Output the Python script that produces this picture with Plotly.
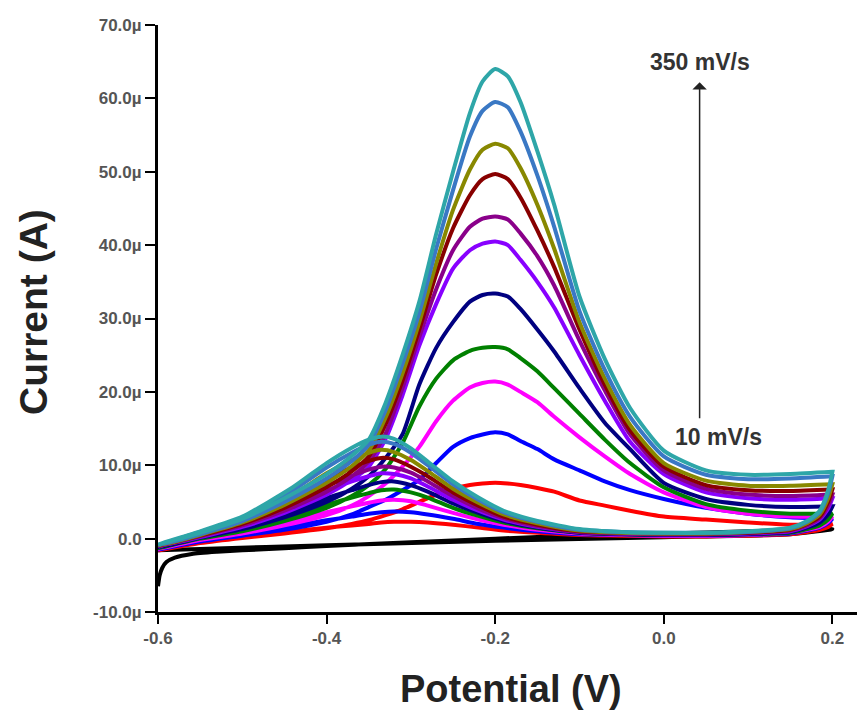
import plotly.graph_objects as go

# Potential grids (V)
fwd_potential = [-0.60, -0.55, -0.50, -0.45, -0.40, -0.37, -0.35, -0.33, -0.31, -0.29, -0.27, -0.25,
                 -0.23, -0.215, -0.20, -0.185, -0.17, -0.15, -0.13, -0.10, -0.07, -0.04, 0.00,
                 0.05, 0.10, 0.15, 0.20]
rev_potential = [0.20, 0.195, 0.185, 0.17, 0.15, 0.10, 0.05, 0.00, -0.05, -0.10, -0.15, -0.19,
                 -0.22, -0.25, -0.28, -0.30, -0.32, -0.335, -0.35, -0.37, -0.40, -0.44, -0.50,
                 -0.55, -0.60]

# Current values in microamps (forward and reverse sweeps)
red_fwd = [-1.6, -0.6, 0.1, 0.7, 1.4, 2.0, 2.5, 3.2, 4.0, 5.0, 6.0, 6.8, 7.3, 7.5, 7.6, 7.5, 7.3, 6.9, 6.4, 5.2, 4.5, 3.8, 3.0, 2.6, 2.2, 1.9, 2.0]
red_rev = [2.0, 1.6, 1.2, 0.9, 0.6, 0.4, 0.3, 0.3, 0.4, 0.5, 0.8, 1.1, 1.5, 1.9, 2.2, 2.3, 2.3, 2.2, 2.0, 1.8, 1.5, 1.0, 0.3, -0.5, -1.6]
blue_fwd = [-1.5, -0.4, 0.4, 1.2, 2.3, 3.3, 4.3, 5.3, 6.6, 8.0, 10.3, 12.5, 13.7, 14.2, 14.5, 14.2, 13.3, 12.2, 10.8, 9.3, 7.8, 6.6, 5.4, 4.2, 3.4, 2.9, 2.7]
blue_rev = [2.7, 2.1, 1.5, 1.1, 0.7, 0.5, 0.4, 0.4, 0.5, 0.6, 1.0, 1.5, 2.0, 2.7, 3.3, 3.6, 3.7, 3.6, 3.4, 3.0, 2.5, 1.7, 0.6, -0.3, -1.5]
magenta_fwd = [-1.4, -0.2, 0.7, 1.8, 3.2, 4.5, 5.8, 7.5, 9.8, 12.5, 16.0, 18.8, 20.6, 21.2, 21.4, 21.0, 20.0, 18.6, 16.6, 13.8, 11.2, 8.8, 6.3, 4.3, 3.4, 3.0, 3.0]
magenta_rev = [3.0, 2.3, 1.6, 1.2, 0.8, 0.5, 0.4, 0.4, 0.5, 0.7, 1.2, 1.9, 2.6, 3.5, 4.5, 5.1, 5.3, 5.2, 4.9, 4.4, 3.6, 2.5, 1.0, 0.0, -1.4]
green_fwd = [-1.3, 0.0, 1.0, 2.4, 4.2, 5.8, 7.3, 9.5, 13.0, 18.0, 21.8, 24.3, 25.6, 26.0, 26.1, 25.8, 24.6, 22.8, 20.5, 17.0, 13.5, 10.3, 7.0, 4.7, 3.8, 3.4, 3.4]
green_rev = [3.4, 2.6, 1.8, 1.3, 0.8, 0.6, 0.5, 0.5, 0.6, 0.8, 1.4, 2.2, 3.1, 4.2, 5.6, 6.3, 6.7, 6.6, 6.2, 5.6, 4.6, 3.2, 1.3, 0.2, -1.3]
navy_fwd = [-1.2, 0.1, 1.3, 2.9, 5.0, 6.8, 8.5, 11.0, 14.2, 21.0, 26.0, 29.5, 32.3, 33.2, 33.4, 33.0, 31.3, 28.5, 25.5, 20.5, 15.8, 12.2, 7.6, 5.4, 4.6, 4.3, 4.4]
navy_rev = [4.4, 3.3, 2.2, 1.5, 0.9, 0.6, 0.5, 0.5, 0.6, 0.8, 1.5, 2.4, 3.5, 4.8, 6.4, 7.3, 7.8, 7.7, 7.3, 6.6, 5.5, 3.8, 1.6, 0.4, -1.2]
violet_fwd = [-1.1, 0.2, 1.6, 3.5, 6.0, 8.0, 9.8, 13.6, 19.5, 26.3, 32.0, 36.8, 39.3, 40.2, 40.5, 40.0, 38.0, 35.0, 31.5, 25.0, 18.8, 13.2, 8.8, 6.3, 5.5, 5.3, 5.5]
violet_rev = [5.5, 4.1, 2.6, 1.7, 1.0, 0.7, 0.6, 0.6, 0.7, 0.9, 1.6, 2.6, 3.8, 5.3, 7.1, 8.2, 8.8, 8.9, 8.5, 7.8, 6.5, 4.4, 1.9, 0.5, -1.1]
purple_fwd = [-1.1, 0.3, 1.8, 3.8, 6.4, 8.5, 10.5, 14.3, 20.5, 27.5, 34.0, 39.3, 42.5, 43.6, 43.9, 43.5, 41.6, 38.5, 34.5, 27.0, 20.2, 14.2, 9.3, 6.8, 6.0, 5.8, 6.0]
purple_rev = [6.0, 4.5, 2.8, 1.8, 1.1, 0.8, 0.6, 0.6, 0.7, 0.9, 1.7, 2.8, 4.1, 5.8, 7.8, 9.0, 9.7, 9.8, 9.4, 8.6, 7.2, 4.9, 2.1, 0.6, -1.1]
maroon_fwd = [-1.0, 0.4, 2.0, 4.2, 7.0, 9.2, 11.2, 15.6, 21.5, 28.5, 36.0, 42.3, 46.8, 49.0, 49.7, 49.0, 46.5, 42.0, 37.0, 28.5, 21.0, 14.8, 9.8, 7.3, 6.6, 6.5, 6.7]
maroon_rev = [6.7, 5.0, 3.0, 2.0, 1.2, 0.8, 0.7, 0.7, 0.8, 1.0, 1.9, 3.0, 4.5, 6.3, 8.5, 9.8, 10.8, 11.0, 10.6, 9.7, 8.1, 5.5, 2.4, 0.7, -1.0]
olive_fwd = [-1.0, 0.5, 2.2, 4.6, 7.6, 9.9, 12.0, 16.5, 22.5, 29.5, 37.5, 44.8, 50.3, 53.0, 53.8, 53.2, 50.5, 45.5, 39.5, 29.5, 21.8, 15.5, 10.3, 7.9, 7.2, 7.2, 7.4]
olive_rev = [7.4, 5.5, 3.3, 2.1, 1.3, 0.9, 0.7, 0.7, 0.8, 1.1, 2.1, 3.3, 4.9, 6.8, 9.2, 10.7, 11.8, 12.1, 11.7, 10.7, 8.9, 6.0, 2.6, 0.8, -1.0]
steel_fwd = [-0.9, 0.6, 2.4, 5.0, 8.2, 10.6, 12.8, 17.5, 23.8, 30.8, 39.5, 47.5, 54.8, 58.3, 59.5, 58.8, 55.5, 49.5, 42.5, 31.0, 23.0, 16.6, 11.2, 8.7, 8.1, 8.2, 8.5]
steel_rev = [8.5, 6.2, 3.6, 2.3, 1.4, 0.9, 0.8, 0.8, 0.9, 1.2, 2.3, 3.6, 5.3, 7.4, 10.0, 11.7, 12.9, 13.2, 12.8, 11.7, 9.7, 6.6, 2.8, 0.9, -0.9]
teal_fwd = [-0.8, 0.8, 2.7, 5.5, 8.8, 11.3, 13.5, 18.5, 25.0, 32.3, 41.5, 50.0, 58.0, 62.3, 64.0, 63.0, 59.5, 52.8, 45.5, 33.0, 24.5, 17.8, 12.0, 9.3, 8.7, 8.8, 9.1]
teal_rev = [9.1, 6.6, 3.8, 2.4, 1.5, 1.0, 0.8, 0.8, 0.9, 1.3, 2.4, 3.8, 5.6, 7.8, 10.5, 12.3, 13.6, 13.9, 13.5, 12.4, 10.3, 7.0, 3.0, 1.0, -0.8]

# Blank electrode (black)
blank_potential = [-0.600, -0.598, -0.595, -0.590, -0.580, -0.560, -0.530, -0.500, -0.450, -0.400, -0.300,
                   -0.200, -0.100, 0.000, 0.100, 0.200, 0.150, 0.000, -0.200, -0.400, -0.550, -0.600]
blank_current = [-6.5, -5.0, -4.0, -3.2, -2.6, -2.1, -1.8, -1.6, -1.3, -1.0, -0.5,
                 0.0, 0.4, 0.7, 1.0, 1.3, 0.6, 0.2, -0.3, -0.9, -1.4, -1.6]

series = [
    ("10 mV/s", "#ff0000", red_fwd, red_rev),
    ("blue", "#0000ff", blue_fwd, blue_rev),
    ("magenta", "#ff00ff", magenta_fwd, magenta_rev),
    ("green", "#008000", green_fwd, green_rev),
    ("navy", "#000080", navy_fwd, navy_rev),
    ("violet", "#8800ff", violet_fwd, violet_rev),
    ("purple", "#8a008a", purple_fwd, purple_rev),
    ("wine", "#880000", maroon_fwd, maroon_rev),
    ("olive", "#888800", olive_fwd, olive_rev),
    ("royal", "#3a78c4", steel_fwd, steel_rev),
    ("350 mV/s", "#2ea6a8", teal_fwd, teal_rev),
]

y_ticks = [-10, 0, 10, 20, 30, 40, 50, 60, 70]
y_ticktext = ["-10.0\u00b5", "0.0", "10.0\u00b5", "20.0\u00b5", "30.0\u00b5", "40.0\u00b5",
              "50.0\u00b5", "60.0\u00b5", "70.0\u00b5"]
x_ticks = [-0.6, -0.4, -0.2, 0.0, 0.2]
x_ticktext = ["-0.6", "-0.4", "-0.2", "0.0", "0.2"]

fig = go.Figure()
fig.add_trace(go.Scatter(x=blank_potential, y=blank_current, mode="lines",
                         line=dict(color="#000000", width=4, shape="spline", smoothing=0.6)))
for name, color, fwd, rev in series:
    fig.add_trace(go.Scatter(x=fwd_potential + rev_potential, y=fwd + rev, mode="lines", name=name,
                             line=dict(color=color, width=4, shape="spline", smoothing=0.6)))

tickfont = dict(family="Liberation Sans", size=17, color="#555555", weight="bold")
fig.update_layout(
    width=865, height=713,
    margin=dict(l=150, r=8, t=17, b=109),
    plot_bgcolor="white", paper_bgcolor="white",
    showlegend=False,
    xaxis=dict(range=[-0.6, 0.2387], showline=True, linecolor="black", linewidth=3,
               ticks="outside", ticklen=9, tickwidth=2, tickcolor="black",
               showgrid=False, zeroline=False, tickvals=x_ticks, ticktext=x_ticktext,
               tickfont=tickfont),
    yaxis=dict(range=[-10, 70], showline=True, linecolor="black", linewidth=3,
               ticks="outside", ticklen=10, tickwidth=2, tickcolor="black",
               showgrid=False, zeroline=False, tickvals=y_ticks, ticktext=y_ticktext,
               tickfont=tickfont),
)

fig.add_annotation(x=0.0425, y=62.2, ax=0.0425, ay=16.2, axref="x", ayref="y", xref="x", yref="y",
                   text="", showarrow=True, arrowhead=1, arrowsize=1.6, arrowwidth=1.5,
                   arrowcolor="#222222")
fig.add_annotation(x=0.0425, y=65.0, text="<b>350 mV/s</b>", showarrow=False,
                   font=dict(family="Liberation Sans", size=23, color="#333333"))
fig.add_annotation(x=0.065, y=13.9, text="<b>10 mV/s</b>", showarrow=False,
                   font=dict(family="Liberation Sans", size=23, color="#333333"))
fig.add_annotation(x=(511 - 158) / 707, y=(612 - 689) / 587, xref="paper", yref="paper",
                   xanchor="center", yanchor="middle",
                   text="<b>Potential (V)</b>", showarrow=False,
                   font=dict(family="Liberation Sans", size=38, color="#222222"))
fig.add_annotation(x=(33 - 158) / 707, y=(612 - 312) / 587, xref="paper", yref="paper",
                   xanchor="center", yanchor="middle",
                   text="<b>Current (A)</b>", showarrow=False, textangle=-90,
                   font=dict(family="Liberation Sans", size=39, color="#222222"))

fig.write_html("out.html")
